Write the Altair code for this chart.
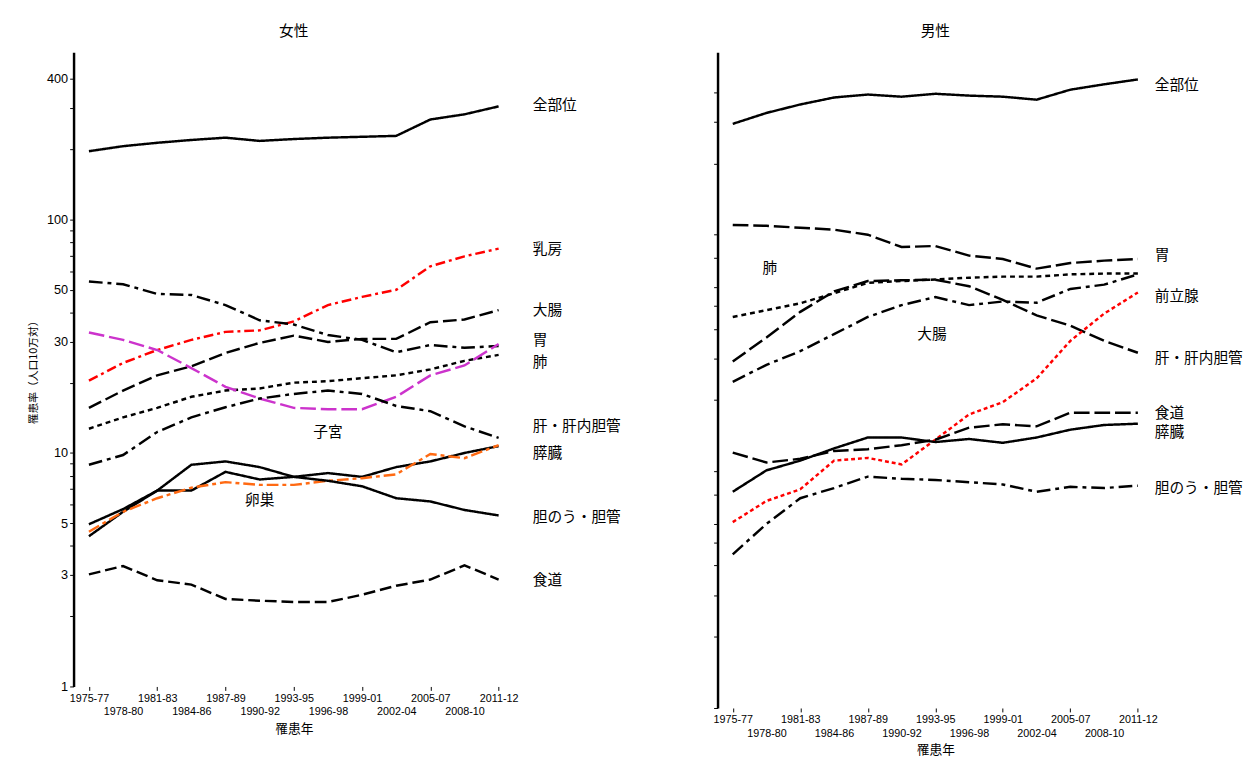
import altair as alt
import pandas as pd

periods = ["1975-77", "1978-80", "1981-83", "1984-86", "1987-89", "1990-92", "1993-95",
           "1996-98", "1999-01", "2002-04", "2005-07", "2008-10", "2011-12"]

# 女性
f_all = [196, 206, 213, 219, 224, 217, 221, 224, 226, 228, 268, 282, 305]
f_breast = [20.4, 24.3, 27.6, 30.5, 33, 33.5, 36.6, 43, 46.6, 50, 63, 69.5, 75]
f_colon = [15.6, 18.5, 21.5, 23.5, 26.8, 29.6, 31.8, 29.9, 30.8, 30.8, 36.3, 37.3, 40.9]
f_stomach = [54.2, 52.8, 48, 47.5, 43, 37, 35.5, 32, 30.5, 27, 29, 28.2, 28.7]
f_lung = [12.7, 14.2, 15.6, 17.4, 18.5, 18.9, 20, 20.3, 20.9, 21.5, 22.8, 24.8, 26.3]
f_uterus = [32.8, 30.5, 27.6, 23.1, 19.2, 17.1, 15.6, 15.4, 15.4, 17.4, 21.5, 23.7, 29.3]
f_liver = [8.9, 9.8, 12.3, 14.2, 15.7, 17.1, 17.9, 18.5, 17.9, 15.9, 15.1, 13.0, 11.6]
f_pancreas = [4.4, 5.6, 6.9, 6.9, 8.3, 7.7, 7.9, 8.2, 7.9, 8.7, 9.2, 10.0, 10.7]
f_ovary = [4.6, 5.6, 6.4, 7.1, 7.5, 7.3, 7.3, 7.6, 7.8, 8.1, 9.9, 9.5, 10.8]
f_gall = [4.95, 5.75, 6.9, 8.9, 9.2, 8.7, 7.9, 7.6, 7.2, 6.4, 6.2, 5.7, 5.4]
f_esoph = [3.02, 3.28, 2.85, 2.73, 2.37, 2.33, 2.3, 2.3, 2.47, 2.7, 2.87, 3.3, 2.87]

# 男性
m_all = [294, 327, 355, 380, 391, 383, 394, 387, 383, 372, 410, 432, 453]
m_stomach = [110, 109, 107, 105, 100, 88.7, 89.6, 81.6, 78.9, 71.9, 75.9, 77.7, 79]
m_lung = [44.9, 48, 51.3, 56.6, 62.6, 63.7, 64.7, 65.8, 66.5, 66.5, 68, 68.5, 68.5]
m_liver = [29.1, 36.8, 47.2, 57.6, 63.7, 64.2, 64.5, 60.6, 53, 45.6, 41.3, 35.6, 31.7]
m_colon = [23.9, 28.2, 32.2, 38, 44.9, 50.4, 54.5, 50.4, 52.2, 51.6, 59, 61.5, 68]
m_prostate = [6.1, 7.5, 8.4, 11.1, 11.4, 10.7, 13.6, 17.4, 19.6, 24.7, 35.6, 46.4, 57]
m_esoph = [12, 10.9, 11.3, 12.2, 12.4, 12.9, 13.6, 15.3, 15.8, 15.5, 17.7, 17.7, 17.7]
m_pancreas = [8.2, 10.1, 11.1, 12.5, 13.9, 13.9, 13.3, 13.7, 13.2, 13.9, 15, 15.7, 15.9]
m_gall = [4.46, 6.0, 7.7, 8.5, 9.5, 9.3, 9.2, 9.0, 8.8, 8.2, 8.6, 8.5, 8.7]

# (name, values, colour, dash)
female = [
    ("全部位", f_all, "black", [1, 0]),
    ("乳房", f_breast, "red", [10, 4, 3, 4]),
    ("大腸", f_colon, "black", [14, 5]),
    ("胃", f_stomach, "black", [14, 5, 4, 5]),
    ("肺", f_lung, "black", [5, 4]),
    ("子宮", f_uterus, "#cc33cc", [16, 5]),
    ("肝・肝内胆管", f_liver, "black", [14, 5, 4, 5]),
    ("膵臓", f_pancreas, "black", [1, 0]),
    ("卵巣", f_ovary, "#ff6a13", [12, 4, 4, 4]),
    ("胆のう・胆管", f_gall, "black", [1, 0]),
    ("食道", f_esoph, "black", [12, 5]),
]
male = [
    ("全部位", m_all, "black", [1, 0]),
    ("胃", m_stomach, "black", [16, 5]),
    ("肺", m_lung, "black", [5, 4]),
    ("肝・肝内胆管", m_liver, "black", [16, 5]),
    ("大腸", m_colon, "black", [14, 5, 4, 5]),
    ("前立腺", m_prostate, "red", [4, 3]),
    ("食道", m_esoph, "black", [16, 5]),
    ("膵臓", m_pancreas, "black", [1, 0]),
    ("胆のう・胆管", m_gall, "black", [14, 5, 4, 5]),
]

f_label_text = ["全部位", "乳房", "大腸", "胃", "肺", "肝・肝内胆管", "膵臓", "胆のう・胆管", "食道"]
f_label_y = [310, 75, 41, 30.5, 24.5, 13.0, 10.0, 5.3, 2.85]
f_label_x = 13.0
f_inner_text = ["子宮", "卵巣"]
f_inner_x = [7.0, 5.0]
f_inner_y = [12.3, 6.3]

m_label_text = ["全部位", "胃", "前立腺", "肝・肝内胆管", "食道", "膵臓", "胆のう・胆管"]
m_label_y = [430, 82, 55, 30, 17.6, 14.6, 8.5]
m_label_x = 12.5
m_inner_text = ["肺", "大腸"]
m_inner_x = [1.1, 5.9]
m_inner_y = [72, 38]

FONT = "Noto Sans CJK JP"
ticks = [1, 2, 3, 4, 5, 6, 7, 8, 9, 10, 20, 30, 40, 50, 60, 70, 80, 90, 100, 200, 300, 400]
plist = "['" + "','".join(periods) + "']"
label_expr_x = f"{plist}[datum.value]"


def panel(series, title, lab_text, lab_y, lab_x, in_text, in_x, in_y, top, show_labels, w, h):
    rows = []
    for name, vals, col, dash in series:
        for i, v in enumerate(vals):
            rows.append({"s": name, "i": i, "v": v})
    df = pd.DataFrame(rows)
    names = [s[0] for s in series]
    yscale = alt.Scale(type="log", domain=[1, top], nice=False)
    xscale = alt.Scale(domain=[-0.45, 12.45], nice=False)
    yaxis = alt.Axis(
        values=ticks if show_labels else [1, 2, 3, 4, 5, 6, 8, 10, 20, 30, 40, 50, 60, 80, 100, 200, 300, 400],
        labelExpr="indexof([1,3,5,10,30,50,100,400], datum.value) >= 0 ? datum.value : ''" if show_labels else "''",
        title="罹患率（人口10万対）" if show_labels else None,
        grid=False, tickSize=4, domainWidth=2.5, domainColor="black", tickColor="black",
        labelFontSize=13, titleFontSize=11, titleFont=FONT, titleFontWeight="normal",
        labelFont="Liberation Sans", labelOverlap=False, titlePadding=8,
    )
    common = dict(grid=False, domain=False, tickColor="black", labelAngle=0, labelExpr=label_expr_x,
                  labelFontSize=11, labelFont="Liberation Sans", labelOverlap=False, labelBound=False,
                  orient="bottom")
    xaxis_even = alt.Axis(values=list(range(0, 13, 2)), tickSize=4, title=None, **common)
    xaxis_odd = alt.Axis(values=list(range(1, 13, 2)), tickSize=0, offset=18, title="罹患年",
                         titleFont=FONT, titleFontSize=13, titleFontWeight="normal", titlePadding=6, **common)
    lines = alt.Chart(df).mark_line(strokeWidth=2.5).encode(
        x=alt.X("i:Q", scale=xscale, axis=xaxis_even),
        y=alt.Y("v:Q", scale=yscale, axis=yaxis),
        color=alt.Color("s:N", scale=alt.Scale(domain=names, range=[s[2] for s in series]), legend=None),
        strokeDash=alt.StrokeDash("s:N", scale=alt.Scale(domain=names, range=[s[3] for s in series]), legend=None),
    )
    lab = alt.Chart(pd.DataFrame({"t": lab_text, "v": lab_y, "i": [lab_x] * len(lab_text)})).mark_text(
        align="left", fontSize=15, font=FONT, color="black"
    ).encode(x=alt.X("i:Q", scale=xscale, axis=xaxis_odd), y=alt.Y("v:Q", scale=yscale), text="t:N")
    inner = alt.Chart(pd.DataFrame({"t": in_text, "v": in_y, "i": in_x})).mark_text(
        align="center", fontSize=15, font=FONT, color="black"
    ).encode(x=alt.X("i:Q", scale=xscale, axis=None), y=alt.Y("v:Q", scale=yscale), text="t:N")
    return alt.layer(lines, lab, inner).resolve_axis(x="independent").properties(
        width=w, height=h,
        title=alt.TitleParams(title, font=FONT, fontSize=15, fontWeight="normal", offset=14),
    )


left = panel(female, "女性", f_label_text, f_label_y, f_label_x, f_inner_text, f_inner_x, f_inner_y,
             520, True, 450, 648)
right = panel(male, "男性", m_label_text, m_label_y, m_label_x, m_inner_text, m_inner_x, m_inner_y,
              590, False, 445, 670)

chart = alt.hconcat(left, right, spacing=92).resolve_scale(
    color="independent", strokeDash="independent", x="independent", y="independent"
).configure(background="white", padding={"left": 20, "top": 8, "right": 5, "bottom": 0},
            view=alt.ViewConfig(stroke=None))
chart.save("out.html", embed_options={"renderer": "svg", "actions": False})
